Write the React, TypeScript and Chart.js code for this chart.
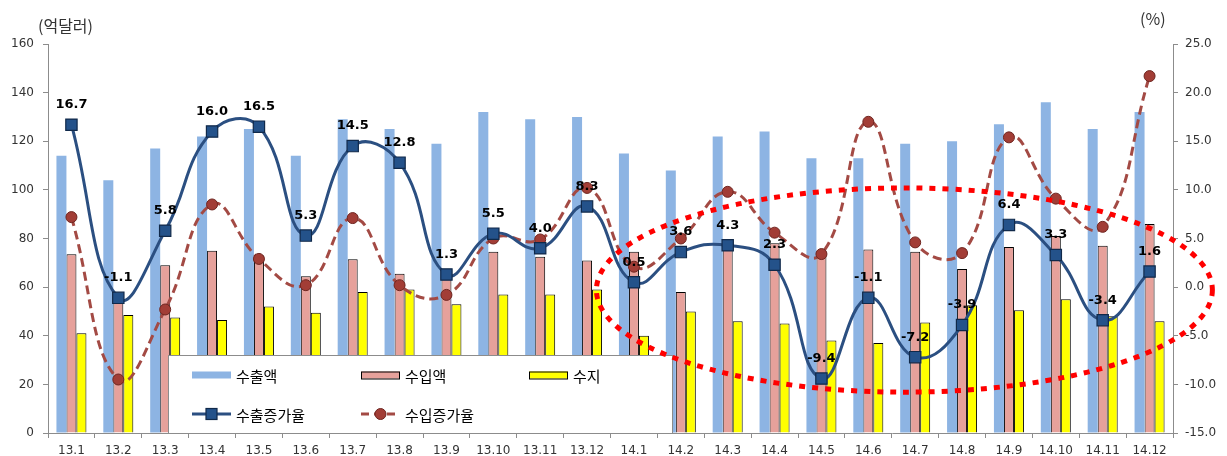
import React, { useEffect, useRef } from 'react';
import { Chart, registerables } from 'chart.js';

Chart.register(...registerables);

const categories = ['13.1', '13.2', '13.3', '13.4', '13.5', '13.6', '13.7', '13.8', '13.9', '13.10', '13.11', '13.12',
  '14.1', '14.2', '14.3', '14.4', '14.5', '14.6', '14.7', '14.8', '14.9', '14.10', '14.11', '14.12'];

// 억달러
const exportAmount = [114, 104, 117, 122, 125, 114, 129, 125, 119, 132, 129, 130,
  115, 108, 122, 124, 113, 113, 119, 120, 127, 136, 125, 132];
const importAmount = [73.5, 55.5, 69, 75, 73, 64.5, 71.5, 65.5, 66, 74.5, 72.5, 71,
  74.5, 58, 76.5, 78, 75, 75.5, 74.5, 67.5, 76.5, 81, 77, 86];
const balance = [41, 48.5, 47.5, 46.5, 52, 49.5, 58, 59, 53, 57, 57, 59,
  40, 50, 46, 45, 38, 37, 45.5, 52.5, 50.5, 55, 48, 46];

// %
const exportGrowth = [16.7, -1.1, 5.8, 16.0, 16.5, 5.3, 14.5, 12.8, 1.3, 5.5, 4.0, 8.3,
  0.5, 3.6, 4.3, 2.3, -9.4, -1.1, -7.2, -3.9, 6.4, 3.3, -3.4, 1.6];
const importGrowth = [7.2, -9.5, -2.3, 8.5, 2.9, 0.2, 7.1, 0.2, -0.8, 5.0, 4.9, 10.2,
  2.1, 5.0, 9.8, 5.6, 3.4, 17.0, 4.6, 3.5, 15.4, 9.1, 6.2, 21.7];

const leftAxis = { min: 0, max: 160, step: 20, title: '(억달러)' };
const rightAxis = { min: -15, max: 25, step: 5, title: '(%)' };

const seriesNames = ['수출액', '수입액', '수지', '수출증가율', '수입증가율'];

// annotation ellipse in data terms (category index, left-axis value)
const highlight = { cx: 17.77, rx: 6.57, cy: 58.8, ry: 42 };

const C = {
  exportBar: '#8db4e3',
  importBar: '#e6a19b',
  balanceBar: '#ffff00',
  exportLine: '#2b4f81',
  exportPoint: '#24528a',
  exportPointBorder: '#10294a',
  importLine: '#a34a44',
  importPoint: '#a23d36',
  importPointBorder: '#6e2520',
  axis: '#8c8c8c',
  tick: '#333333',
};

const KR = '"Noto Sans CJK KR", "Noto Sans", sans-serif';
const NUM = '"DejaVu Sans", Verdana, sans-serif';

const overlayPlugin = {
  id: 'overlay',
  afterDatasetsDraw(chart: any) {
    const ctx = chart.ctx;
    const ca = chart.chartArea;
    // legend box
    const L = ca.left + 120, T = ca.bottom - 78, W = 505, H = 78;
    ctx.save();
    ctx.fillStyle = '#ffffff';
    ctx.fillRect(L, T, W, H);
    ctx.strokeStyle = C.axis;
    ctx.lineWidth = 1;
    ctx.strokeRect(L + 0.5, T + 0.5, W - 1, H);
    ctx.font = '15px ' + KR;
    ctx.textBaseline = 'middle';
    ctx.textAlign = 'left';
    const cols = [24, 193, 361];
    const r1 = T + 20, r2 = T + 59;
    const sw = 39;
    // row 1 bars
    const barColors = [C.exportBar, C.importBar, C.balanceBar];
    for (let i = 0; i < 3; i++) {
      const x = L + cols[i];
      ctx.fillStyle = barColors[i];
      ctx.fillRect(x, r1 - 3.5, sw, 7);
      if (i > 0) {
        ctx.strokeStyle = '#000';
        ctx.lineWidth = 1;
        ctx.strokeRect(x + 0.5, r1 - 3.5 + 0.5, sw - 1, 7);
      }
      ctx.fillStyle = '#000';
      ctx.fillText(seriesNames[i], x + sw + 5, r1 + 1);
    }
    // row 2 lines
    {
      const x = L + cols[0];
      ctx.strokeStyle = C.exportLine;
      ctx.lineWidth = 3;
      ctx.beginPath(); ctx.moveTo(x, r2); ctx.lineTo(x + sw, r2); ctx.stroke();
      ctx.fillStyle = C.exportPoint;
      ctx.fillRect(x + sw / 2 - 5.5, r2 - 5.5, 11, 11);
      ctx.strokeStyle = C.exportPointBorder; ctx.lineWidth = 1.2;
      ctx.strokeRect(x + sw / 2 - 5.5, r2 - 5.5, 11, 11);
      ctx.fillStyle = '#000';
      ctx.fillText(seriesNames[3], x + sw + 5, r2 + 1);
    }
    {
      const x = L + cols[1];
      ctx.strokeStyle = C.importLine;
      ctx.lineWidth = 3;
      ctx.setLineDash([8, 5]);
      ctx.beginPath(); ctx.moveTo(x, r2); ctx.lineTo(x + sw, r2); ctx.stroke();
      ctx.setLineDash([]);
      ctx.fillStyle = C.importPoint;
      ctx.beginPath(); ctx.arc(x + sw / 2, r2, 5.5, 0, Math.PI * 2); ctx.fill();
      ctx.strokeStyle = C.importPointBorder; ctx.lineWidth = 1; ctx.stroke();
      ctx.fillStyle = '#000';
      ctx.fillText(seriesNames[4], x + sw + 5, r2 + 1);
    }
    ctx.restore();

    // data labels for export growth
    const meta = chart.getDatasetMeta(3);
    ctx.save();
    ctx.font = 'bold 13px ' + NUM;
    ctx.fillStyle = '#000';
    ctx.textAlign = 'center';
    ctx.textBaseline = 'middle';
    meta.data.forEach((pt: any, i: number) => {
      ctx.fillText(exportGrowth[i].toFixed(1), pt.x, pt.y - 20);
    });
    ctx.restore();

    // highlight ellipse
    const xs = chart.scales.x, ys = chart.scales.y;
    const cx = xs.getPixelForValue(highlight.cx);
    const rx = xs.getPixelForValue(highlight.cx + highlight.rx) - cx;
    const cy = ys.getPixelForValue(highlight.cy);
    const ry = cy - ys.getPixelForValue(highlight.cy + highlight.ry);
    ctx.save();
    ctx.strokeStyle = '#ff0000';
    ctx.lineWidth = 5;
    ctx.setLineDash([6, 7]);
    ctx.beginPath();
    ctx.ellipse(cx, cy, rx, ry, 0, 0, Math.PI * 2);
    ctx.stroke();
    ctx.restore();
  },
  afterDraw(chart: any) {
    const ctx = chart.ctx;
    ctx.save();
    ctx.font = '16px ' + KR;
    ctx.fillStyle = '#333';
    ctx.textBaseline = 'middle';
    ctx.textAlign = 'left';
    ctx.fillText(leftAxis.title, 38, 26);
    ctx.fillText(rightAxis.title, 1140, 19);
    ctx.restore();
  },
};

export default function App() {
  const ref = useRef<HTMLCanvasElement>(null);
  useEffect(() => {
    document.body.style.margin = '0';
    const canvas = ref.current!;
    const chart = new Chart(canvas, {
      type: 'bar',
      data: {
        labels: categories,
        datasets: [
          {
            type: 'bar', label: seriesNames[0], data: exportAmount, yAxisID: 'y',
            backgroundColor: C.exportBar, borderWidth: 0, order: 3,
            categoryPercentage: 0.64, barPercentage: 1.0,
          },
          {
            type: 'bar', label: seriesNames[1], data: importAmount, yAxisID: 'y',
            backgroundColor: C.importBar, borderColor: '#000', borderWidth: 1, order: 3,
            categoryPercentage: 0.64, barPercentage: 1.0,
          },
          {
            type: 'bar', label: seriesNames[2], data: balance, yAxisID: 'y',
            backgroundColor: C.balanceBar, borderColor: '#000', borderWidth: 1, order: 3,
            categoryPercentage: 0.64, barPercentage: 1.0,
          },
          {
            type: 'line', label: seriesNames[3], data: exportGrowth, yAxisID: 'y1',
            borderColor: C.exportLine, borderWidth: 3, tension: 0.45,
            pointStyle: 'rect', pointRadius: 8, pointBackgroundColor: C.exportPoint,
            pointBorderColor: C.exportPointBorder, pointBorderWidth: 1.2, order: 0,
          },
          {
            type: 'line', label: seriesNames[4], data: importGrowth, yAxisID: 'y1',
            borderColor: C.importLine, borderWidth: 3, borderDash: [9, 5], tension: 0.45,
            pointStyle: 'circle', pointRadius: 5.5, pointBackgroundColor: C.importPoint,
            pointBorderColor: C.importPointBorder, pointBorderWidth: 1, order: 1,
          },
        ],
      } as any,
      options: {
        animation: false,
        responsive: true,
        maintainAspectRatio: false,
        layout: { padding: { top: 44, left: 0, right: 0, bottom: 0 } },
        plugins: {
          legend: { display: false },
          tooltip: { enabled: false },
          title: { display: false },
        },
        scales: {
          x: {
            type: 'category',
            grid: { display: true, drawOnChartArea: false, drawTicks: true, tickLength: 5, color: C.axis, offset: true },
            border: { display: true, color: C.axis, width: 1 },
            ticks: { font: { family: NUM, size: 12 }, color: C.tick, padding: 6, maxRotation: 0, autoSkip: false },
            afterFit: (s: any) => { s.height = 23; },
          },
          y: {
            position: 'left', min: leftAxis.min, max: leftAxis.max,
            grid: { display: true, drawOnChartArea: false, drawTicks: true, tickLength: 5, color: C.axis },
            border: { display: true, color: C.axis, width: 1 },
            ticks: { stepSize: leftAxis.step, font: { family: NUM, size: 12 }, color: C.tick, padding: 9 },
            afterFit: (s: any) => { s.width = 48; },
          },
          y1: {
            position: 'right', min: rightAxis.min, max: rightAxis.max,
            grid: { display: true, drawOnChartArea: false, drawTicks: true, tickLength: 5, color: C.axis },
            border: { display: true, color: C.axis, width: 1 },
            ticks: {
              stepSize: rightAxis.step, font: { family: NUM, size: 12 }, color: C.tick, padding: 7,
              callback: (v: any) => Number(v).toFixed(1),
            },
            afterFit: (s: any) => { s.width = 54; },
          },
        },
      } as any,
      plugins: [overlayPlugin],
    });
    return () => chart.destroy();
  }, []);
  return (
    <div style={{ position: 'relative', width: 1227, height: 456, background: '#fff' }}>
      <canvas ref={ref} />
    </div>
  );
}
